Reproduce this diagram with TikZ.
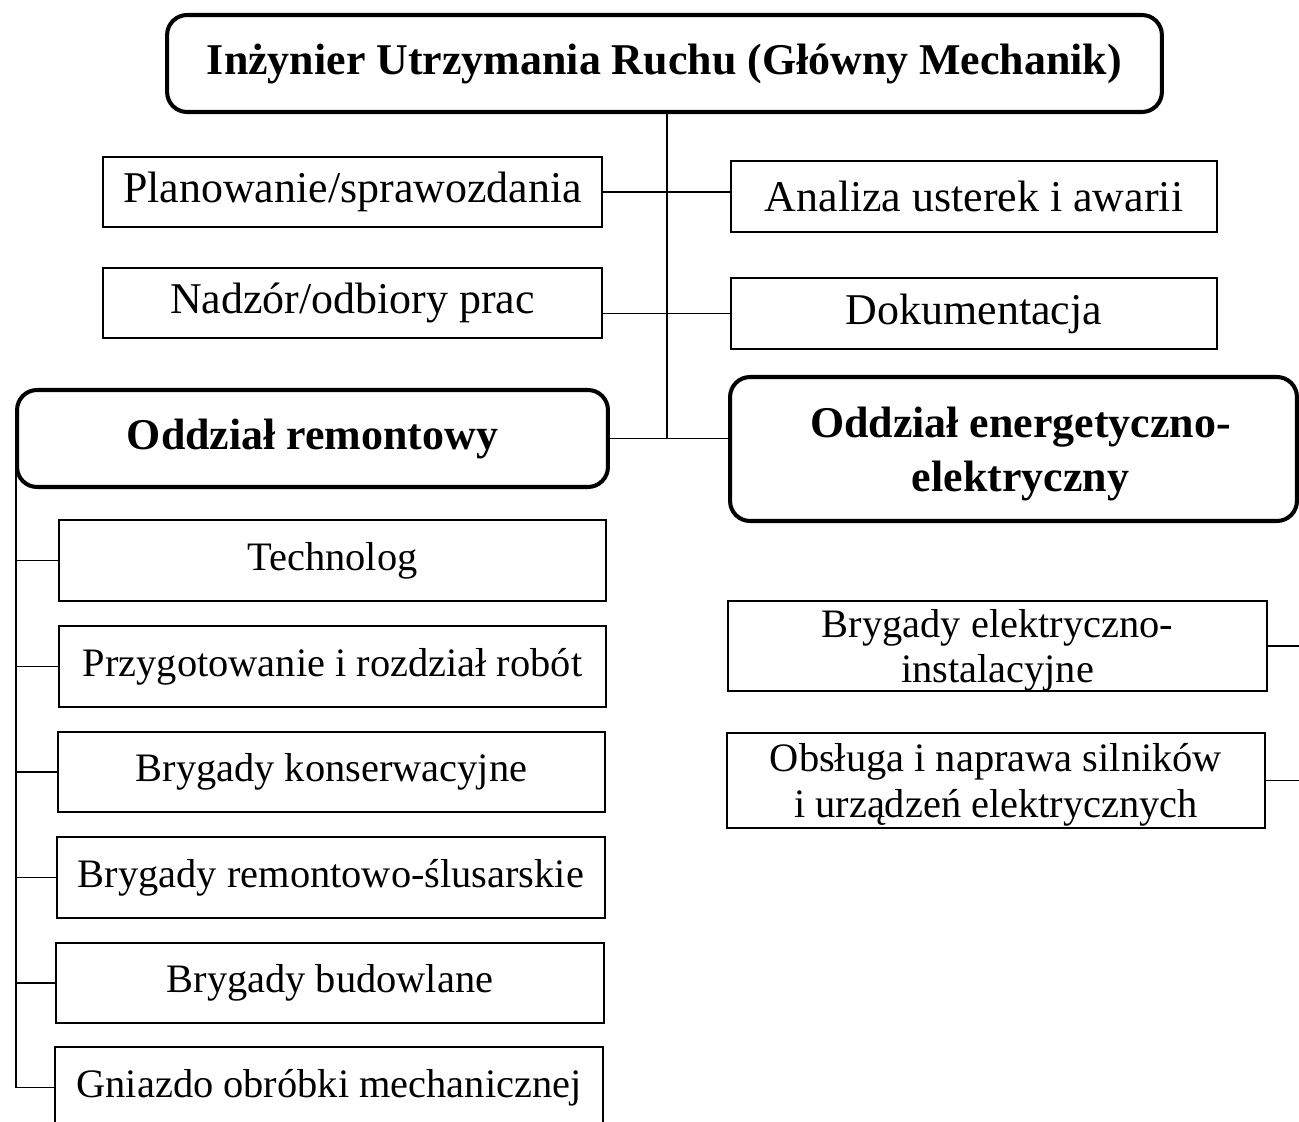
\documentclass[tikz,border=0pt]{standalone}
\usepackage{fontspec}
\setmainfont{Liberation Serif}
\begin{document}
\begin{tikzpicture}[x=0.02cm,y=-0.02cm,
  plainbox/.style={draw, line width=1.15pt, rectangle, align=center, inner sep=0pt,
    font=\fontsize{23}{26}\selectfont},
  staffbox/.style={plainbox, font=\fontsize{25}{28}\selectfont},
  headbox/.style={draw, line width=2.3pt, rectangle, rounded corners=0.4cm, align=center,
    inner sep=0pt, font=\fontsize{25}{31}\selectfont\bfseries},
  link/.style={line width=1.1pt}]
\useasboundingbox (0,0) rectangle (1299,1122);
\clip (0,0) rectangle (1299,1122);

% top level
\node[headbox, minimum width=19.9cm, minimum height=1.94cm] (top) at (664.5,63.5)
  {Inżynier Utrzymania Ruchu (Główny Mechanik)};

% staff positions
\node[staffbox, minimum width=9.98cm, minimum height=1.4cm] (plan) at (352.5,192)
  {Planowanie/sprawozdania};
\node[staffbox, minimum width=9.72cm, minimum height=1.42cm] (anal) at (974,196.5)
  {Analiza usterek i awarii};
\node[staffbox, minimum width=9.98cm, minimum height=1.4cm] (nadz) at (352.5,303)
  {Nadzór/odbiory prac};
\node[staffbox, minimum width=9.72cm, minimum height=1.42cm] (dok) at (974,313.5)
  {Dokumentacja};

% departments
\node[headbox, minimum width=11.82cm, minimum height=1.94cm] (rem) at (312.5,438.5)
  {Oddział remontowy};
\node[headbox, minimum width=11.34cm, minimum height=2.88cm, text depth=0pt,
  inner sep=0pt] (ene) at (1013.5,449)
  {\hspace*{0.28cm}Oddział energetyczno-\\\hspace*{0.28cm}elektryczny};

% maintenance department units
\node[plainbox, minimum width=10.94cm, minimum height=1.62cm] (u1) at (332.5,560.5) {Technolog};
\node[plainbox, minimum width=10.94cm, minimum height=1.62cm] (u2) at (332.5,666.5) {Przygotowanie i rozdział robót};
\node[plainbox, minimum width=10.94cm, minimum height=1.6cm] (u3) at (331.5,772) {Brygady konserwacyjne};
\node[plainbox, minimum width=10.96cm, minimum height=1.62cm] (u4) at (331,877.5) {Brygady remontowo-ślusarskie};
\node[plainbox, minimum width=10.96cm, minimum height=1.6cm] (u5) at (330,983) {Brygady budowlane};
\node[plainbox, minimum width=10.96cm, minimum height=1.62cm] (u6) at (329,1087.5) {Gniazdo obróbki mechanicznej};

% energy department units
\node[plainbox, minimum width=10.78cm, minimum height=1.8cm, text depth=0pt] (e1) at (997.5,646)
  {Brygady elektryczno-\\instalacyjne};
\node[plainbox, minimum width=10.76cm, minimum height=1.9cm, text depth=0pt] (e2) at (996,780.5)
  {Obsługa i naprawa silników\\i urządzeń elektrycznych};

% main trunk
\coordinate (trunk) at (rem.east -| 667,0);
\draw[link] (top.south -| trunk) -- (trunk);
\draw[link] (plan.east) -- (plan.east -| anal.west);
\draw[link] (dok.west) -- (dok.west -| nadz.east);
\draw[link] (rem.east) -- (rem.east -| ene.west);

% left bus of the maintenance department
\coordinate (bus) at (16,0);
\draw[link] (rem.west -| bus) -- (u6.west -| bus) -- (u6.west);
\foreach \u in {u1,u2,u3,u4,u5}
  \draw[link] (\u.west -| bus) -- (\u.west);

% right bus of the energy department
\coordinate (rbus) at (1310,0);
\draw[link] (e1.east) -- (e1.east -| rbus);
\draw[link] (e2.east) -- (e2.east -| rbus);
\end{tikzpicture}
\end{document}
